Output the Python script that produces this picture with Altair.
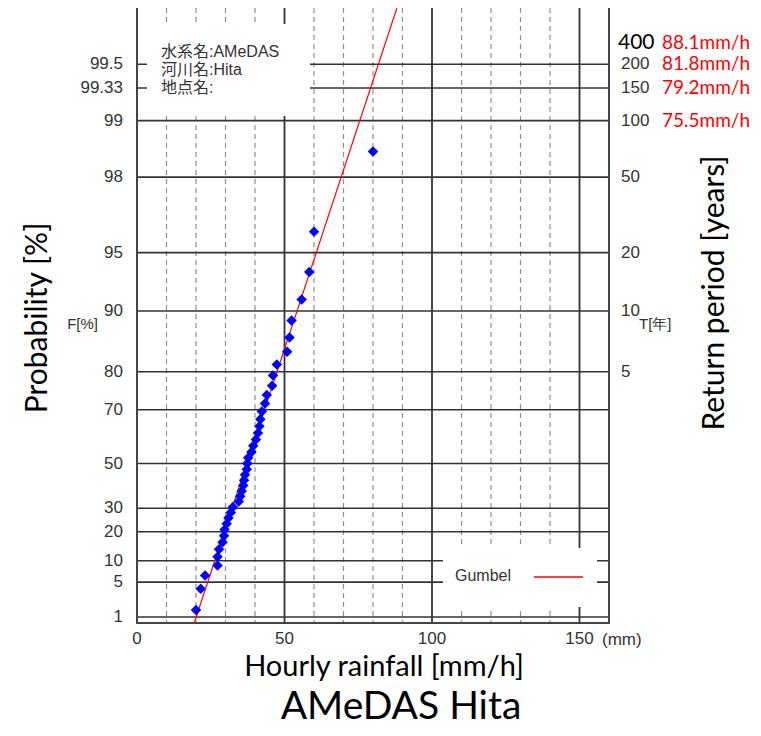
import math
import altair as alt
import pandas as pd

# ---------------- data ----------------
prob_ticks = [1, 5, 10, 20, 30, 50, 70, 80, 90, 95, 98, 99, 99.33, 99.5]
prob_labels = ["1", "5", "10", "20", "30", "50", "70", "80", "90", "95", "98", "99", "99.33", "99.5"]
return_periods = [5, 10, 20, 50, 100, 150, 200]
return_labels = ["5", "10", "20", "50", "100", "150", "200"]
quantile_T = [100, 150, 200]
quantile_labels = ["75.5mm/h", "79.2mm/h", "81.8mm/h"]
top_T_label = "400"
top_quantile_label = "88.1mm/h"
x_tick_values = [0, 50, 100, 150]
x_tick_labels = ["0", "50", "100", "150"]
x_solid = [50, 100, 150]
x_dashed = [10, 20, 30, 40, 60, 70, 80, 90, 110, 120, 130, 140]

# annual maximum hourly rainfall (mm/h) and plotting probability (%)
rain = [20.0, 21.6, 23.1, 27.3, 27.3, 27.8, 29.0, 29.5, 29.7, 30.4,
        31.0, 31.8, 32.5, 34.5, 35.0, 35.5, 36.0, 36.3, 36.6, 37.2,
        37.4, 37.7, 38.8, 39.4, 40.3, 41.0, 41.5, 41.8, 42.3, 43.4,
        44.0, 45.8, 46.1, 47.4, 50.9, 51.7, 52.4, 55.8, 58.4, 60.0, 80.0]
prob = [1.46, 3.88, 6.31, 8.74, 11.17, 13.59, 16.02, 18.45, 20.87, 23.30,
        25.73, 28.16, 30.58, 33.01, 35.44, 37.86, 40.29, 42.72, 45.15, 47.57,
        50.00, 52.43, 54.85, 57.28, 59.71, 62.14, 64.56, 66.99, 69.42, 71.84,
        74.27, 76.70, 79.13, 81.55, 83.98, 86.41, 88.83, 91.26, 93.69, 96.12, 98.54]

# fitted Gumbel line (end points)
gumbel_mm = [19.4, 88.1]
gumbel_F = [0.7, 99.75]

x_range = [0, 160]
F_range = [0.7, 99.75]

info_lines = ["水系名:AMeDAS", "河川名:Hita", "地点名:"]

# ---------------- scales ----------------
def reduced(f_pct):
    return -math.log(-math.log(f_pct / 100.0))

W, H = 472, 615
xscale = alt.Scale(domain=x_range, nice=False, zero=False)
yscale = alt.Scale(domain=[reduced(F_range[0]), reduced(F_range[1])], nice=False, zero=False)
RV = "-log(-log(datum.F/100))"

LABEL_FONT = "Liberation Sans"
TITLE_FONT = "Lato"
GRID = "#333333"

one = pd.DataFrame({"a": [0]})

# grid lines
hgrid = alt.Chart(pd.DataFrame({"F": prob_ticks})).transform_calculate(yv=RV).mark_rule(
    color=GRID, strokeWidth=1.6
).encode(y=alt.Y("yv:Q", scale=yscale, axis=None))

vdash = alt.Chart(pd.DataFrame({"x": x_dashed})).mark_rule(
    color="#8f8f8f", strokeWidth=1.2, strokeDash=[5, 4]
).encode(x=alt.X("x:Q", scale=xscale, axis=None))

vsolid = alt.Chart(pd.DataFrame({"x": x_solid})).mark_rule(
    color=GRID, strokeWidth=1.8
).encode(x=alt.X("x:Q", scale=xscale, axis=None))

# white boxes (info box and legend box)
info_box = alt.Chart(one).mark_rect(fill="white").encode(
    x=alt.value(10), x2=alt.value(173), y=alt.value(16), y2=alt.value(108))
legend_box = alt.Chart(one).mark_rect(fill="white").encode(
    x=alt.value(306), x2=alt.value(460), y=alt.value(540), y2=alt.value(599))

frame = alt.Chart(one).mark_rect(fill=None, stroke="#444444", strokeWidth=2).encode(
    x=alt.value(0), x2=alt.value(W), y=alt.value(-1), y2=alt.value(H))

# fitted line and points
line = alt.Chart(pd.DataFrame({"x": gumbel_mm, "F": gumbel_F})).transform_calculate(yv=RV).mark_line(
    color="#ff0000", strokeWidth=1.2
).encode(x=alt.X("x:Q", scale=xscale), y=alt.Y("yv:Q", scale=yscale))

points = alt.Chart(pd.DataFrame({"x": rain, "F": prob})).transform_calculate(yv=RV).mark_point(
    shape="diamond", filled=True, color="#0000ff", size=110, opacity=1
).encode(x=alt.X("x:Q", scale=xscale), y=alt.Y("yv:Q", scale=yscale))

# left probability labels
left_labels = alt.Chart(pd.DataFrame({"F": prob_ticks, "lab": prob_labels})).transform_calculate(yv=RV).mark_text(
    align="right", baseline="middle", font=LABEL_FONT, fontSize=17, color="#333333"
).encode(x=alt.value(-14), y=alt.Y("yv:Q", scale=yscale), text="lab:N")

F_label = alt.Chart(one).mark_text(
    align="right", baseline="middle", font=LABEL_FONT, fontSize=15, color="#333333"
).encode(x=alt.value(-39), y=alt.value(316), text=alt.value("F[%]"))

# right return-period labels
right_labels = alt.Chart(pd.DataFrame({"T": return_periods, "lab": return_labels})).transform_calculate(
    yv="-log(-log(1-1/datum.T))"
).mark_text(
    align="left", baseline="middle", font=LABEL_FONT, fontSize=17, color="#333333"
).encode(x=alt.value(484), y=alt.Y("yv:Q", scale=yscale), text="lab:N")

T_label = alt.Chart(one).mark_text(
    align="left", baseline="middle", font=LABEL_FONT, fontSize=15, color="#333333"
).encode(x=alt.value(502), y=alt.value(316), text=alt.value("T[年]"))

top_T = alt.Chart(one).mark_text(
    align="left", baseline="middle", font=TITLE_FONT, fontSize=21, color="#000000"
).encode(x=alt.value(481), y=alt.value(35), text=alt.value(top_T_label))

quant = alt.Chart(pd.DataFrame({"T": quantile_T, "lab": quantile_labels})).transform_calculate(
    yv="-log(-log(1-1/datum.T))"
).mark_text(
    align="left", baseline="middle", font=TITLE_FONT, fontSize=19, color="#ff0000"
).encode(x=alt.value(525), y=alt.Y("yv:Q", scale=yscale), text="lab:N")

top_quant = alt.Chart(one).mark_text(
    align="left", baseline="middle", font=TITLE_FONT, fontSize=19, color="#ff0000"
).encode(x=alt.value(525), y=alt.value(35), text=alt.value(top_quantile_label))

# x labels
x_labels = alt.Chart(pd.DataFrame({"x": x_tick_values, "lab": x_tick_labels})).mark_text(
    align="center", baseline="middle", font=LABEL_FONT, fontSize=17, color="#333333"
).encode(x=alt.X("x:Q", scale=xscale), y=alt.value(631), text="lab:N")

mm_label = alt.Chart(one).mark_text(
    align="left", baseline="middle", font=LABEL_FONT, fontSize=17, color="#333333"
).encode(x=alt.value(465), y=alt.value(632), text=alt.value("(mm)"))

# info text
info = alt.Chart(pd.DataFrame({"t": info_lines, "row": [0, 1, 2]})).transform_calculate(
    py="44 + datum.row * 18"
).mark_text(
    align="left", baseline="middle", font="Liberation Sans, Noto Sans CJK JP", fontSize=16,
    color="#333333"
).encode(x=alt.value(24), y=alt.Y("py:Q", scale=None), text="t:N")

# legend
legend_text = alt.Chart(one).mark_text(
    align="left", baseline="middle", font="Liberation Sans", fontSize=16, color="#333333"
).encode(x=alt.value(318), y=alt.value(568), text=alt.value("Gumbel"))
legend_line = alt.Chart(one).mark_rule(color="#ff0000", strokeWidth=1.5).encode(
    x=alt.value(397), x2=alt.value(446), y=alt.value(569))

# titles
xtitle = alt.Chart(one).mark_text(
    align="center", baseline="middle", font=TITLE_FONT, fontSize=29, color="#000000"
).encode(x=alt.value(247), y=alt.value(659), text=alt.value("Hourly rainfall [mm/h]"))
main_title = alt.Chart(one).mark_text(
    align="center", baseline="middle", font=TITLE_FONT, fontSize=39, color="#000000"
).encode(x=alt.value(264), y=alt.value(699), text=alt.value("AMeDAS Hita"))
ytitle = alt.Chart(one).mark_text(
    align="center", baseline="middle", font=TITLE_FONT, fontSize=30, color="#000000", angle=270
).encode(x=alt.value(-99), y=alt.value(310), text=alt.value("Probability [%]"))
y2title = alt.Chart(one).mark_text(
    align="center", baseline="middle", font=TITLE_FONT, fontSize=30, color="#000000", angle=270
).encode(x=alt.value(578), y=alt.value(285), text=alt.value("Return period [years]"))

chart = alt.layer(
    vdash, vsolid, hgrid, info_box, legend_box, frame, line, points,
    left_labels, F_label, right_labels, T_label, top_T, quant, top_quant,
    x_labels, mm_label, info, legend_text, legend_line,
    xtitle, main_title, ytitle, y2title,
).properties(
    width=W, height=H,
    padding={"left": 129, "top": 0, "right": 144, "bottom": 105},
    autosize=alt.AutoSizeParams(type="none"),
    background="white",
).configure_view(stroke=None)

chart.save("out.html", embed_options={"renderer": "svg", "actions": False})
